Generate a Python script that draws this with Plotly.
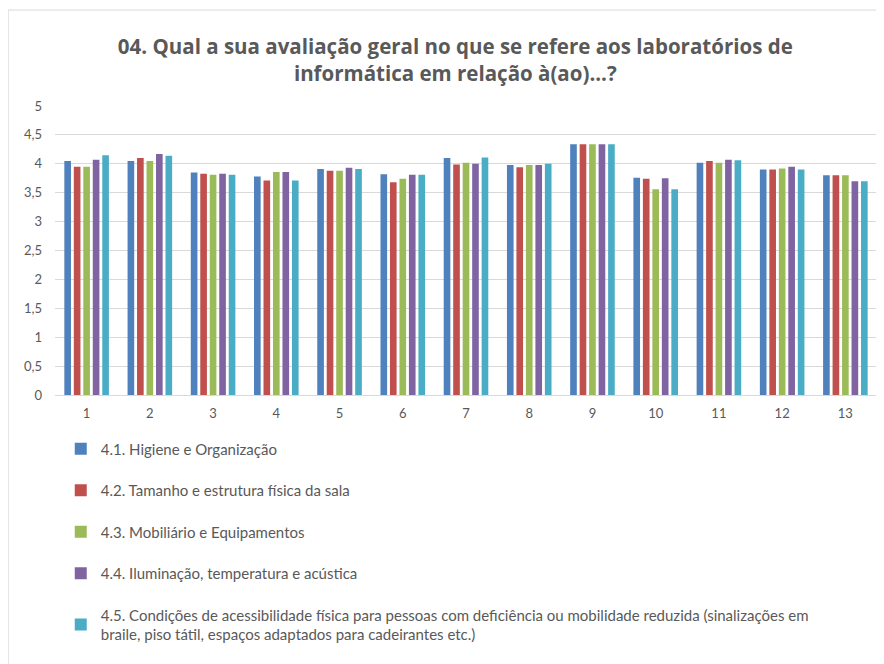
import plotly.graph_objects as go

categories = [str(i) for i in range(1, 14)]

series_names = [
    "4.1. Higiene e Organização",
    "4.2. Tamanho e estrutura física da sala",
    "4.3. Mobiliário e Equipamentos",
    "4.4. Iluminação, temperatura e acústica",
    "4.5. Condições de acessibilidade física para pessoas com deficiência ou mobilidade reduzida (sinalizações em<br>braile, piso tátil, espaços adaptados para cadeirantes etc.)",
]

s41 = [4.05, 4.05, 3.85, 3.78, 3.91, 3.82, 4.10, 3.98, 4.34, 3.76, 4.02, 3.90, 3.80]
s42 = [3.95, 4.10, 3.83, 3.71, 3.88, 3.68, 3.99, 3.94, 4.34, 3.74, 4.05, 3.90, 3.80]
s43 = [3.95, 4.05, 3.81, 3.86, 3.88, 3.74, 4.02, 3.98, 4.34, 3.56, 4.02, 3.92, 3.80]
s44 = [4.07, 4.17, 3.83, 3.86, 3.93, 3.81, 4.00, 3.98, 4.34, 3.75, 4.07, 3.95, 3.70]
s45 = [4.15, 4.14, 3.81, 3.71, 3.91, 3.81, 4.11, 4.00, 4.34, 3.56, 4.06, 3.90, 3.70]

colors = ["#4F81BD", "#C0504D", "#9BBB59", "#8064A2", "#4BACC6"]

y_ticks = [0, 0.5, 1, 1.5, 2, 2.5, 3, 3.5, 4, 4.5, 5]
y_tick_text = ["0", "0,5", "1", "1,5", "2", "2,5", "3", "3,5", "4", "4,5", "5"]

FONT = "Open Sans, Lato, sans-serif"
LEG_FONT = "Lato, Open Sans, sans-serif"

fig = go.Figure()
for i, (name, vals) in enumerate(zip(series_names, [s41, s42, s43, s44, s45])):
    fig.add_trace(go.Bar(
        x=categories, y=vals, name=name,
        marker=dict(color=colors[i], line=dict(width=0)),
        legendgroup=f"g{i}",
    ))

fig.update_layout(
    width=884, height=664,
    paper_bgcolor="white", plot_bgcolor="white",
    margin=dict(l=47, r=15, t=98, b=277),
    barmode="group", bargap=0.25, bargroupgap=0.3,
    font=dict(family=FONT, color="#595959", size=12),
    title=dict(
        text="<b>04. Qual a sua avaliação geral no que se refere aos laboratórios de<br>informática em relação à(ao)...?</b>",
        x=0.487, xref="paper", xanchor="center",
        y=0.93, yref="container", yanchor="top",
        font=dict(size=20.5, color="#595959", family=FONT),
    ),
    xaxis=dict(
        type="category", showgrid=False, showline=True, linecolor="#D9D9D9",
        linewidth=1, ticks="", tickfont=dict(size=13, color="#595959", family=LEG_FONT),
        ticklabelstandoff=6,
    ),
    yaxis=dict(
        range=[0, 5], tickvals=y_ticks, ticktext=y_tick_text,
        showgrid=True, gridcolor="#D9D9D9", gridwidth=1, zeroline=False,
        showline=False, ticks="", tickfont=dict(size=13, color="#595959", family=LEG_FONT),
        ticklabelstandoff=12,
    ),
    legend=dict(
        orientation="v", x=0.007, xanchor="left", y=-0.13, yanchor="top",
        tracegroupgap=19, font=dict(size=15, color="#595959", family=LEG_FONT),
        bgcolor="rgba(0,0,0,0)", itemwidth=30,
    ),
    showlegend=True,
    shapes=[dict(
        type="rect", xref="paper", yref="paper",
        x0=-0.057, x1=1.2, y0=-1.2, y1=1.332,
        line=dict(color="#D9D9D9", width=1), fillcolor="rgba(0,0,0,0)",
        layer="below",
    )],
)

fig.write_html("out.html")
